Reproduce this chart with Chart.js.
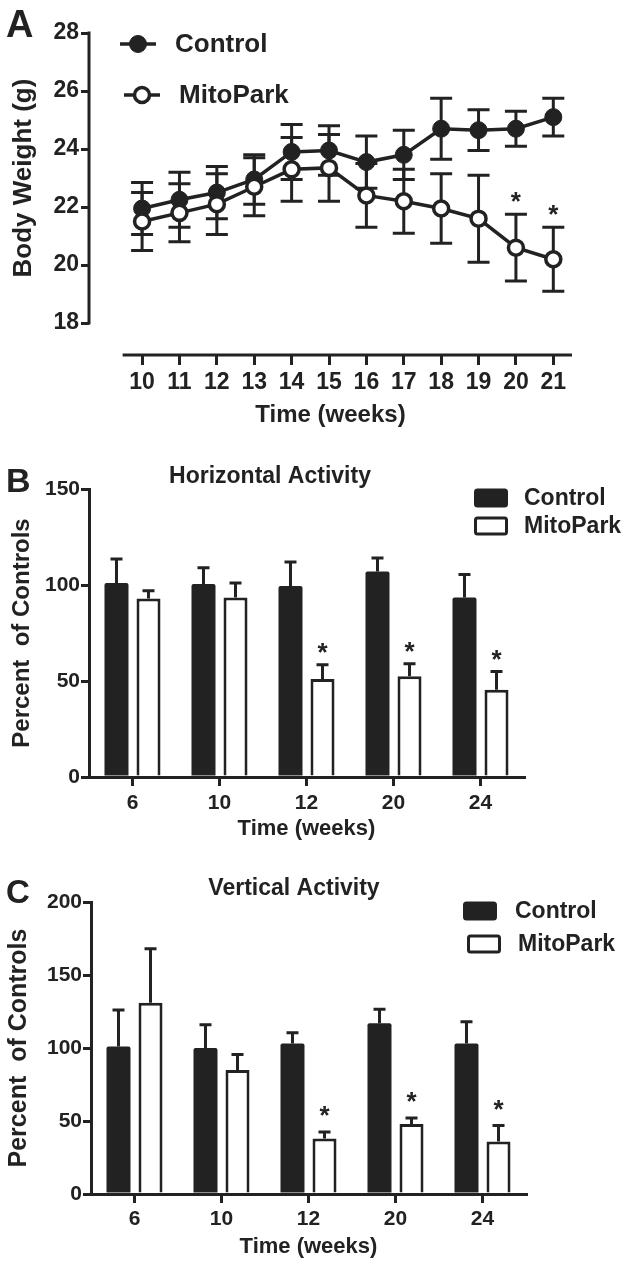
<!DOCTYPE html>
<html>
<head>
<meta charset="utf-8">
<title>Body weight and activity</title>
<script src="https://cdn.jsdelivr.net/npm/chart.js@4.4.1/dist/chart.umd.min.js"></script>
<style>
  html, body { margin: 0; padding: 0; background: #fff; }
  #wrap { position: relative; width: 630px; height: 1267px; }
  .panel { position: absolute; left: 0; width: 630px; }
</style>
</head>
<body>
<div id="wrap">
  <div class="panel" style="top:0;height:440px"><canvas id="chartA"></canvas></div>
  <div class="panel" style="top:440px;height:410px"><canvas id="chartB"></canvas></div>
  <div class="panel" style="top:850px;height:417px"><canvas id="chartC"></canvas></div>
</div>
<script>
// Panel A - body weight (mean, SEM)
const weeks = [10, 11, 12, 13, 14, 15, 16, 17, 18, 19, 20, 21];
const controlWeight = [21.95, 22.25, 22.5, 22.95, 23.9, 23.95, 23.55, 23.8, 24.7, 24.65, 24.7, 25.1];
const controlWeightSem = [0.9, 0.95, 0.9, 0.85, 0.95, 0.85, 0.9, 0.85, 1.05, 0.7, 0.6, 0.65];
const mitoWeight = [21.5, 21.8, 22.1, 22.7, 23.3, 23.35, 22.4, 22.2, 21.95, 21.6, 20.6, 20.2];
const mitoWeightSem = [1.0, 1.0, 1.05, 1.0, 1.1, 1.15, 1.1, 1.1, 1.2, 1.5, 1.15, 1.1];
const weightSig = [10, 11];
const weightTicks = [18, 20, 22, 24, 26, 28];

// Panel B - horizontal activity
const activityWeeks = ['6', '10', '12', '20', '24'];
const horizControl = [101, 100.5, 99.5, 107, 93.5];
const horizControlSem = [12.5, 8.5, 12.5, 7, 12];
const horizMito = [93, 93.5, 51, 52.5, 45.5];
const horizMitoSem = [4, 7.5, 7.5, 6.5, 9.5];
const horizSig = [2, 3, 4];
const horizTicks = [0, 50, 100, 150];

// Panel C - vertical activity
const vertControl = [101, 100, 103, 117, 103];
const vertControlSem = [25, 16, 7.5, 9.5, 15];
const vertMito = [131, 85, 38, 48, 36];
const vertMitoSem = [37, 10.5, 4.5, 4, 11];
const vertSig = [2, 3, 4];
const vertTicks = [0, 50, 100, 150, 200];

const INK = '#222222';
const FONT = "'Liberation Sans', Arial, Helvetica, sans-serif";

function bold(size) {
    return { family: FONT, size: size, weight: 'bold', lineHeight: 1.2 };
}

// error bars (and significance stars) drawn from dataset.errors / dataset.sig
const errorBars = {
    id: 'errorBars',
    beforeDatasetsDraw(chart, args, opts) {
        if (opts.layer === 'under') this.paint(chart, opts);
    },
    afterDatasetsDraw(chart, args, opts) {
        if (opts.layer !== 'under') this.paint(chart, opts);
    },
    paint(chart, opts) {
        const ctx = chart.ctx;
        const y = chart.scales.y;
        ctx.save();
        ctx.strokeStyle = INK;
        ctx.lineWidth = opts.lineWidth;
        chart.data.datasets.forEach((ds, di) => {
            if (!ds.errors) return;
            const meta = chart.getDatasetMeta(di);
            meta.data.forEach((el, i) => {
                const v = meta.controller.getParsed(i).y;
                const e = ds.errors[i];
                const top = y.getPixelForValue(v + e);
                const bottom = y.getPixelForValue(opts.bothSides ? v - e : v);
                ctx.beginPath();
                ctx.moveTo(el.x, top);
                ctx.lineTo(el.x, bottom);
                ctx.moveTo(el.x - opts.cap, top);
                ctx.lineTo(el.x + opts.cap, top);
                if (opts.bothSides) {
                    ctx.moveTo(el.x - opts.cap, bottom);
                    ctx.lineTo(el.x + opts.cap, bottom);
                }
                ctx.stroke();
            });
        });
        ctx.restore();
    },
    afterDraw(chart, args, opts) {
        const ctx = chart.ctx;
        const y = chart.scales.y;
        ctx.save();
        ctx.fillStyle = INK;
        ctx.font = `bold ${opts.starSize}px ${FONT}`;
        ctx.textAlign = 'center';
        ctx.textBaseline = 'alphabetic';
        chart.data.datasets.forEach((ds, di) => {
            if (!ds.sig) return;
            const meta = chart.getDatasetMeta(di);
            ds.sig.forEach(i => {
                const v = meta.controller.getParsed(i).y;
                const top = y.getPixelForValue(v + ds.errors[i]);
                ctx.fillText('*', meta.data[i].x, top - opts.starGap + opts.starSize * 0.55);
            });
        });
        ctx.restore();
    }
};

// detached Prism-style spines for panel A
const prismSpines = {
    id: 'prismSpines',
    beforeDraw(chart, args, opts) {
        if (!opts.enabled) return;
        const { ctx, chartArea } = chart;
        const x = chart.scales.x, y = chart.scales.y;
        ctx.save();
        ctx.strokeStyle = INK;
        ctx.lineWidth = 3;
        ctx.beginPath();
        ctx.moveTo(chartArea.left, y.getPixelForValue(weightTicks[0]) + 1.5);
        ctx.lineTo(chartArea.left, y.getPixelForValue(weightTicks[weightTicks.length - 1]) - 1.5);
        ctx.moveTo(x.getPixelForValue(opts.xFrom), chartArea.bottom);
        ctx.lineTo(x.getPixelForValue(opts.xTo), chartArea.bottom);
        ctx.stroke();
        ctx.restore();
    }
};

// panel letter, panel title, legend (and panel A's y title, centred on the spine)
const decor = {
    id: 'decor',
    afterDraw(chart, args, opts) {
        const ctx = chart.ctx;
        ctx.save();
        ctx.fillStyle = INK;
        ctx.strokeStyle = INK;
        ctx.textBaseline = 'alphabetic';
        ctx.textAlign = 'left';
        ctx.font = `bold ${opts.letterSize}px ${FONT}`;
        ctx.fillText(opts.letter, opts.letterAt[0], opts.letterAt[1]);
        if (opts.title) {
            ctx.textAlign = 'center';
            ctx.textBaseline = 'middle';
            ctx.font = `bold ${opts.titleSize}px ${FONT}`;
            ctx.fillText(opts.title, opts.titleAt[0], opts.titleAt[1]);
        }
        if (opts.yTitle) {
            const y = chart.scales.y;
            const mid = (y.getPixelForValue(weightTicks[0]) + y.getPixelForValue(weightTicks[weightTicks.length - 1])) / 2;
            ctx.save();
            ctx.translate(opts.yTitle.x, mid);
            ctx.rotate(-Math.PI / 2);
            ctx.textAlign = 'center';
            ctx.textBaseline = 'middle';
            ctx.font = `bold ${opts.yTitle.size}px ${FONT}`;
            ctx.fillText(opts.yTitle.text, 0, 0);
            ctx.restore();
        }
        ctx.textAlign = 'left';
        ctx.textBaseline = 'middle';
        ctx.font = `bold ${opts.legendSize}px ${FONT}`;
        chart.data.datasets.forEach((ds, i) => {
            const row = opts.legendRows[i];
            if (opts.legendKind === 'line') {
                ctx.lineWidth = 3.5;
                ctx.beginPath();
                ctx.moveTo(row.x, row.y);
                ctx.lineTo(row.x + 36, row.y);
                ctx.stroke();
                ctx.beginPath();
                ctx.arc(row.x + 18, row.y, ds.pointRadius, 0, Math.PI * 2);
                ctx.fillStyle = ds.pointBackgroundColor;
                ctx.fill();
                ctx.lineWidth = ds.pointBorderWidth;
                ctx.stroke();
                ctx.fillStyle = INK;
                ctx.fillText(ds.label, row.x + 55, row.y + 1);
            } else {
                const w = 34, h = 19;
                ctx.beginPath();
                ctx.roundRect(row.x + 1.5, row.y - h / 2 + 1.5, w - 3, h - 3, 2);
                ctx.fillStyle = ds.backgroundColor;
                ctx.fill();
                ctx.lineWidth = 3;
                ctx.stroke();
                ctx.fillStyle = INK;
                ctx.fillText(ds.label, row.x + row.gap, row.y + 1);
            }
        });
        ctx.restore();
    }
};

Chart.register(errorBars, prismSpines, decor);

function axisGrid(len) {
    return { display: true, drawOnChartArea: false, drawTicks: true, tickLength: len, color: INK, lineWidth: 3 };
}

// ---------- A ----------
new Chart(document.getElementById('chartA'), {
    type: 'line',
    data: {
        datasets: [
            {
                label: 'Control',
                data: weeks.map((w, i) => ({ x: w, y: controlWeight[i] })),
                errors: controlWeightSem,
                borderColor: INK, borderWidth: 3.5,
                pointRadius: 8.5, pointBackgroundColor: INK, pointBorderColor: INK, pointBorderWidth: 1,
                order: 1
            },
            {
                label: 'MitoPark',
                data: weeks.map((w, i) => ({ x: w, y: mitoWeight[i] })),
                errors: mitoWeightSem,
                sig: weightSig,
                borderColor: INK, borderWidth: 3.5,
                pointRadius: 7.5, pointBackgroundColor: '#ffffff', pointBorderColor: INK, pointBorderWidth: 3.5,
                order: 0
            }
        ]
    },
    options: {
        responsive: true, maintainAspectRatio: false, animation: false,
        layout: { padding: { top: 33, right: 58, left: 0, bottom: 0 } },
        plugins: {
            legend: { display: false },
            tooltip: { enabled: false },
            errorBars: { layer: 'under', bothSides: true, cap: 11, lineWidth: 3, starSize: 26, starGap: 19 },
            prismSpines: { enabled: true, xFrom: 9.48, xTo: 21.5 },
            decor: {
                letter: 'A', letterAt: [6, 37], letterSize: 38,
                yTitle: { text: 'Body Weight (g)', x: 24, size: 26 },
                legendKind: 'line', legendSize: 26,
                legendRows: [{ x: 120, y: 44 }, { x: 124, y: 95 }]
            }
        },
        scales: {
            x: {
                type: 'linear', min: 8.58, max: 21.5,
                afterBuildTicks: s => { s.ticks = weeks.map(v => ({ value: v })); },
                afterFit: s => { s.height = 85; },
                border: { display: false },
                grid: axisGrid(10),
                ticks: { color: INK, font: bold(23), padding: 4, autoSkip: false, maxRotation: 0 },
                title: { display: true, text: 'Time (weeks)', color: INK, font: bold(24), padding: { top: 0, bottom: 10 } }
            },
            y: {
                type: 'linear', min: 16.9, max: 28,
                afterBuildTicks: s => { s.ticks = weightTicks.map(v => ({ value: v })); },
                afterFit: s => { s.width = 89; },
                border: { display: false },
                grid: axisGrid(8),
                ticks: { color: INK, font: bold(23), padding: 2 },
                title: { display: false }
            }
        }
    }
});

// ---------- B and C ----------
function activityChart(id, opts) {
    return new Chart(document.getElementById(id), {
        type: 'bar',
        data: {
            labels: activityWeeks,
            datasets: [
                {
                    label: 'Control', data: opts.control, errors: opts.controlSem,
                    backgroundColor: INK, borderColor: INK, borderWidth: 0, borderRadius: 2
                },
                {
                    label: 'MitoPark', data: opts.mito, errors: opts.mitoSem, sig: opts.sig,
                    backgroundColor: '#ffffff', borderColor: INK, borderWidth: 3
                }
            ]
        },
        options: {
            responsive: true, maintainAspectRatio: false, animation: false,
            categoryPercentage: 0.736, barPercentage: 0.75,
            layout: { padding: { top: opts.top, right: opts.right, left: 0, bottom: 0 } },
            plugins: {
                legend: { display: false },
                tooltip: { enabled: false },
                errorBars: { layer: 'over', bothSides: false, cap: 6, lineWidth: 3, starSize: 26, starGap: opts.starGap },
                prismSpines: { enabled: false },
                decor: opts.decor
            },
            scales: {
                x: {
                    type: 'category', offset: true,
                    afterFit: s => { s.height = 73; },
                    border: { display: true, color: INK, width: 3 },
                    grid: Object.assign(axisGrid(9), { offset: false }),
                    ticks: { color: INK, font: bold(21), padding: opts.tickPad },
                    title: { display: true, text: 'Time (weeks)', color: INK, font: bold(22), padding: { top: 0, bottom: opts.titlePad } }
                },
                y: {
                    type: 'linear', min: 0, max: opts.ticks[opts.ticks.length - 1],
                    afterBuildTicks: s => { s.ticks = opts.ticks.map(v => ({ value: v })); },
                    afterFit: s => { s.width = opts.axisX; },
                    border: { display: true, color: INK, width: 3 },
                    grid: axisGrid(8),
                    ticks: { color: INK, font: bold(21), padding: 1 },
                    title: { display: true, text: 'Percent  of Controls', color: INK, font: bold(opts.yTitleSize), padding: { top: opts.yTitlePad, bottom: 0 } }
                }
            }
        }
    });
}

activityChart('chartB', {
    control: horizControl, controlSem: horizControlSem,
    mito: horizMito, mitoSem: horizMitoSem, sig: horizSig, ticks: horizTicks,
    top: 49, right: 106, axisX: 89, tickPad: 5, titlePad: 8, yTitlePad: 8, yTitleSize: 24, starGap: 18,
    decor: {
        letter: 'B', letterAt: [6, 52], letterSize: 34,
        title: 'Horizontal Activity', titleAt: [270, 37], titleSize: 23,
        legendKind: 'box', legendSize: 23,
        legendRows: [{ x: 474, y: 58, gap: 50 }, { x: 474, y: 86, gap: 50 }]
    }
});

activityChart('chartC', {
    control: vertControl, controlSem: vertControlSem,
    mito: vertMito, mitoSem: vertMitoSem, sig: vertSig, ticks: vertTicks,
    top: 52, right: 104, axisX: 91, tickPad: 4, titlePad: 7, yTitlePad: 4, yTitleSize: 25, starGap: 22,
    decor: {
        letter: 'C', letterAt: [6, 53], letterSize: 33,
        title: 'Vertical Activity', titleAt: [294, 39], titleSize: 23,
        legendKind: 'box', legendSize: 23,
        legendRows: [{ x: 463, y: 61, gap: 52 }, { x: 467, y: 94, gap: 51 }]
    }
});
</script>
</body>
</html>
